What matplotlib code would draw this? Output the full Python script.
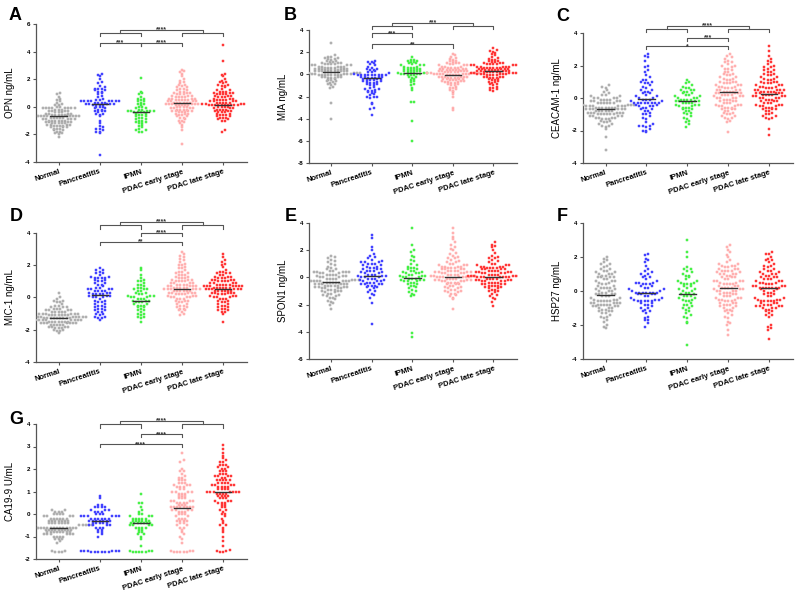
import numpy as np
import matplotlib
matplotlib.use("Agg")
import matplotlib.pyplot as plt

plt.rcParams['font.family'] = ['Liberation Sans', 'DejaVu Sans']
plt.rcParams['font.weight'] = 'bold'
plt.rcParams['axes.unicode_minus'] = False

groups = ["Normal", "Pancreatitis", "IPMN", "PDAC early stage", "PDAC late stage"]
edge_cols = ["#8a8a8a", "#2f2fff", "#22dd22", "#ff8c8c", "#ff2020"]
face_cols = ["#c8c8c8", "#5050ff", "#60ff60", "#ffc8c8", "#ff4848"]

# --- A: OPN ---
opn_normal = [1.0,0.9,0.7,0.6,0.5,0.4,0.3,0.2,0.1,0.1,0.0,0.0,-0.1,-0.1,-0.1,-0.1,-0.1,-0.1,-0.1,-0.1,-0.2,-0.2,-0.3,-0.3,-0.3,-0.4,-0.4,-0.4,-0.5,-0.5,-0.5,-0.6,-0.6,-0.6,-0.6,-0.7,-0.7,-0.7,-0.7,-0.7,-0.7,-0.7,-0.7,-0.8,-0.8,-0.8,-0.8,-0.9,-0.9,-0.9,-0.9,-1.0,-1.0,-1.0,-1.0,-1.1,-1.1,-1.1,-1.2,-1.2,-1.2,-1.2,-1.3,-1.3,-1.3,-1.4,-1.4,-1.4,-1.5,-1.5,-1.5,-1.6,-1.6,-1.7,-1.7,-1.8,-1.8,-1.9,-2.0,-2.2,
              -0.2,-0.3,-0.5,-0.8,-0.9,-1.0,-1.1,-1.2,-1.3,-1.4,-0.6,-0.7,-1.0,-1.6,-1.9]
opn_panc = [2.4,2.3,2.2,2.0,1.8,1.7,1.5,1.4,1.3,1.3,1.3,1.2,1.2,1.1,1.1,1.0,0.9,0.8,0.7,0.6,0.5,0.5,0.4,0.4,0.4,0.4,0.4,0.4,0.4,0.4,0.3,0.3,0.3,0.3,0.2,0.2,0.2,0.2,0.2,0.1,0.1,0.1,0.1,0.0,0.0,0.0,-0.1,-0.1,-0.2,-0.2,-0.3,-0.3,-0.3,-0.4,-0.5,-0.5,-0.6,-0.7,-1.0,-1.2,-1.4,-1.5,-1.6,-1.6,-1.7,-1.8,-1.8,-1.9,-3.5]
opn_ipmn = [2.1,1.1,1.0,0.9,0.7,0.6,0.6,0.5,0.4,0.4,0.3,0.2,0.2,0.1,0.0,0.0,-0.1,-0.1,-0.2,-0.2,-0.3,-0.3,-0.3,-0.3,-0.3,-0.4,-0.4,-0.4,-0.4,-0.5,-0.5,-0.6,-0.6,-0.7,-0.7,-0.8,-0.8,-0.9,-0.9,-1.0,-1.0,-1.1,-1.1,-1.2,-1.2,-1.3,-1.4,-1.5,-1.6,-1.7,-1.7,-1.8,-1.8]
opn_early = [2.7,2.6,2.5,2.4,2.2,2.0,1.8,1.7,1.6,1.6,1.5,1.4,1.4,1.3,1.2,1.2,1.1,1.1,1.0,1.0,0.9,0.9,0.8,0.8,0.8,0.7,0.7,0.7,0.6,0.6,0.6,0.6,0.5,0.5,0.5,0.5,0.4,0.4,0.4,0.4,0.3,0.3,0.3,0.3,0.3,0.2,0.2,0.2,0.2,0.2,0.2,0.1,0.1,0.1,0.1,0.0,0.0,0.0,0.0,-0.1,-0.1,-0.1,-0.2,-0.2,-0.2,-0.3,-0.3,-0.3,-0.4,-0.4,-0.4,-0.5,-0.5,-0.6,-0.6,-0.7,-0.7,-0.8,-0.9,-1.0,-1.1,-1.2,-1.3,-1.5,-1.7,-2.7,
             1.9,1.3,1.0,0.9,0.7,0.5,0.3,0.1,-0.1,-0.2,-0.5,-0.8,-1.0,-0.3]
opn_late = [4.5,3.3,2.4,2.3,2.2,2.0,1.9,1.8,1.8,1.7,1.6,1.5,1.4,1.3,1.2,1.1,1.1,1.0,1.0,1.0,0.9,0.9,0.9,0.8,0.8,0.8,0.7,0.7,0.6,0.6,0.6,0.5,0.5,0.5,0.4,0.4,0.4,0.3,0.3,0.3,0.3,0.2,0.2,0.2,0.1,0.1,0.1,0.1,0.1,0.1,0.1,0.1,0.1,0.1,0.0,0.0,0.0,-0.1,-0.1,-0.1,-0.2,-0.2,-0.2,-0.3,-0.3,-0.3,-0.4,-0.4,-0.5,-0.5,-0.6,-0.6,-0.7,-0.7,-0.8,-0.8,-0.9,-1.0,-1.0,-1.7,-1.8,
            1.5,1.2,0.9,0.7,0.4,0.2,0.0,-0.2,-0.4,-0.6,-0.9,0.5,1.1,0.3,1.6,-0.8]
opn_center = [-0.7, 0.2, -0.35, 0.25, 0.1]

# --- B: MIA ---
mia_normal = [2.8,1.7,1.6,1.6,1.5,1.4,1.4,1.3,1.2,1.1,1.1,1.0,1.0,0.9,0.9,0.9,0.8,0.8,0.8,0.7,0.7,0.7,0.6,0.6,0.6,0.5,0.5,0.5,0.5,0.4,0.4,0.4,0.4,0.3,0.3,0.3,0.3,0.2,0.2,0.2,0.2,0.1,0.1,0.1,0.1,0.0,0.0,0.0,0.0,-0.1,-0.1,-0.1,-0.1,-0.1,-0.1,-0.1,-0.2,-0.2,-0.2,-0.3,-0.3,-0.4,-0.5,-0.5,-0.6,-0.7,-0.8,-0.9,-1.0,-1.1,-1.2,-2.6,-4.0,
              0.0,0.1,0.2,0.3,0.4,0.5,0.6,0.7,0.8,0.9,1.0,1.2,-0.1,-0.2,0.1,0.3,0.5,0.7,-0.3,-0.6,-0.9,1.5]
mia_panc = [1.2,1.1,1.1,1.0,0.9,0.8,0.7,0.6,0.5,0.5,0.4,0.4,0.3,0.2,0.1,0.0,-0.1,-0.1,-0.1,-0.1,-0.1,-0.1,-0.1,-0.1,-0.2,-0.2,-0.2,-0.3,-0.3,-0.3,-0.4,-0.4,-0.4,-0.5,-0.5,-0.6,-0.6,-0.7,-0.7,-0.8,-0.8,-0.9,-1.0,-1.0,-1.1,-1.2,-1.3,-1.4,-1.5,-1.5,-1.6,-1.7,-1.8,-1.9,-2.0,-2.0,-2.0,-2.1,-2.6,-2.7,-3.0,-3.1,-3.7,
            -0.2,-0.5,-0.9,-1.3,-1.6,0.2,-0.1]
mia_ipmn = [1.6,1.3,1.3,1.2,1.2,1.1,1.0,1.0,0.9,0.8,0.8,0.7,0.7,0.6,0.6,0.5,0.5,0.5,0.4,0.4,0.3,0.3,0.3,0.2,0.2,0.2,0.1,0.1,0.1,0.0,0.0,0.0,-0.1,-0.1,-0.2,-0.2,-0.3,-0.4,-0.5,-0.6,-0.7,-0.9,-1.0,-1.2,-1.4,-2.5,-2.5,-4.2,-6.0,
            0.8,0.4,0.0,-0.1,1.1,0.6]
mia_early = [1.8,1.7,1.5,1.4,1.3,1.2,1.1,1.0,1.0,0.9,0.9,0.8,0.8,0.7,0.7,0.6,0.6,0.6,0.5,0.5,0.5,0.4,0.4,0.4,0.4,0.3,0.3,0.3,0.3,0.2,0.2,0.2,0.2,0.1,0.1,0.1,0.1,0.0,0.0,0.0,0.0,0.0,-0.1,-0.1,-0.1,-0.1,-0.2,-0.2,-0.2,-0.2,-0.3,-0.3,-0.3,-0.4,-0.4,-0.4,-0.5,-0.5,-0.6,-0.6,-0.7,-0.7,-0.8,-0.8,-0.9,-1.0,-1.1,-1.2,-1.3,-1.4,-1.6,-1.8,-2.0,-3.0,-3.2,
             1.6,1.2,1.0,0.8,0.6,0.5,0.3,0.2,0.1,0.0,-0.1,-0.2,-0.3,-0.4,-0.5,-0.6,-0.7,-0.9,-1.0,-1.2,-1.5,0.4,0.0,-0.2,0.7]
mia_late = [2.4,2.2,2.1,1.9,1.7,1.5,1.4,1.3,1.2,1.1,1.1,1.0,1.0,0.9,0.9,0.9,0.8,0.8,0.8,0.7,0.7,0.7,0.7,0.6,0.6,0.6,0.6,0.5,0.5,0.5,0.5,0.4,0.4,0.4,0.4,0.3,0.3,0.3,0.3,0.2,0.2,0.2,0.2,0.1,0.1,0.1,0.1,0.0,0.0,0.0,0.0,0.0,-0.1,-0.1,-0.1,-0.2,-0.2,-0.2,-0.3,-0.3,-0.4,-0.4,-0.5,-0.6,-0.7,-0.8,-0.9,-1.0,-1.1,-1.2,-1.3,-1.4,-1.5,
            2.0,1.8,1.6,1.3,1.2,1.0,0.9,0.8,0.7,0.6,0.5,0.4,0.3,0.2,0.1,0.0,-0.1,-0.2,-0.3,-0.5,-0.7,-0.9,-1.2,0.6,0.2]
mia_center = [0.25, -0.35, 0.1, -0.05, 0.3]

# --- C: CEACAM-1 ---
cea_normal = [0.8,0.7,0.6,0.4,0.3,0.2,0.1,0.1,0.0,0.0,0.0,-0.1,-0.1,-0.1,-0.2,-0.2,-0.2,-0.3,-0.3,-0.3,-0.3,-0.4,-0.4,-0.4,-0.4,-0.5,-0.5,-0.5,-0.5,-0.6,-0.6,-0.6,-0.6,-0.6,-0.7,-0.7,-0.7,-0.7,-0.7,-0.8,-0.8,-0.8,-0.8,-0.9,-0.9,-0.9,-0.9,-1.0,-1.0,-1.0,-1.0,-1.1,-1.1,-1.1,-1.2,-1.2,-1.2,-1.3,-1.3,-1.4,-1.4,-1.5,-1.5,-1.6,-1.7,-1.8,-2.4,-3.2,
              0.5,0.2,0.0,-0.1,-0.2,-0.3,-0.4,-0.5,-0.6,-0.7,-0.8,-0.9,-1.0,-1.1,-1.2,-1.3,-0.5,-0.6,-0.7,-0.8,-0.9,-1.0,-1.6,-1.7,-0.3,-0.4,-1.9]
cea_panc = [2.7,2.6,2.5,2.3,2.0,1.7,1.6,1.3,1.1,1.1,1.0,1.0,0.9,0.8,0.7,0.5,0.5,0.4,0.4,0.3,0.2,0.1,0.0,0.0,-0.1,-0.1,-0.1,-0.2,-0.3,-0.3,-0.3,-0.3,-0.3,-0.3,-0.3,-0.4,-0.5,-0.5,-0.5,-0.6,-0.7,-0.7,-0.8,-0.9,-1.0,-1.0,-1.1,-1.2,-1.5,-1.6,-1.7,-1.7,-1.8,-1.9,-2.0,-2.1,
            1.9,1.4,0.9,0.6,0.3,0.1,-0.2,-0.4,-0.6,-0.8,-1.3,-1.7,-2.0,-0.3]
cea_ipmn = [1.1,1.0,0.8,0.7,0.6,0.6,0.5,0.5,0.4,0.4,0.3,0.3,0.2,0.1,0.1,0.0,0.0,-0.1,-0.1,-0.1,-0.2,-0.2,-0.2,-0.2,-0.3,-0.3,-0.3,-0.4,-0.4,-0.5,-0.5,-0.6,-0.6,-0.7,-0.8,-0.8,-0.9,-1.0,-1.1,-1.2,-1.3,-1.5,-1.6,-1.8,
            0.9,0.5,0.2,0.0,-0.1,-0.3,-0.4,-0.6,-0.7,-0.9,-1.4]
cea_early = [2.7,2.6,2.4,2.3,2.2,2.1,2.0,1.9,1.8,1.7,1.6,1.5,1.5,1.4,1.3,1.2,1.2,1.1,1.0,1.0,0.9,0.9,0.8,0.8,0.7,0.7,0.6,0.6,0.5,0.5,0.5,0.4,0.4,0.4,0.3,0.3,0.3,0.2,0.2,0.2,0.1,0.1,0.0,0.0,0.0,-0.1,-0.1,-0.2,-0.2,-0.3,-0.3,-0.4,-0.4,-0.5,-0.5,-0.6,-0.6,-0.7,-0.7,-0.8,-0.9,-1.0,-1.1,-1.2,-1.3,-1.4,-2.1,
             2.5,2.2,2.0,1.8,1.6,1.4,1.3,1.1,1.0,0.9,0.8,0.7,0.6,0.5,0.4,0.3,0.2,0.1,0.0,-0.1,-0.2,-0.3,-0.4,-0.5,-0.6,-0.7,-0.8,-0.9,-1.0,-1.1,-1.2,-1.5,0.3]
cea_late = [3.2,2.6,2.3,2.1,2.0,1.9,1.8,1.7,1.6,1.5,1.5,1.4,1.3,1.2,1.1,1.1,1.0,1.0,0.9,0.9,0.8,0.8,0.7,0.7,0.6,0.6,0.5,0.5,0.5,0.4,0.4,0.4,0.3,0.3,0.3,0.2,0.2,0.2,0.1,0.1,0.1,0.0,0.0,0.0,-0.1,-0.1,-0.2,-0.2,-0.3,-0.3,-0.4,-0.4,-0.5,-0.5,-0.6,-0.6,-0.7,-0.7,-0.8,-0.9,-1.0,-1.1,-1.2,-1.3,-1.9,-2.3,
            2.9,2.4,2.2,1.9,1.7,1.6,1.4,1.3,1.2,1.0,0.9,0.8,0.7,0.6,0.5,0.4,0.3,0.2,0.1,0.0,-0.1,-0.2,-0.3,-0.4,-0.5,-0.6,-0.7,-0.8,-1.0,-1.1,-1.2,0.3,0.4,0.5]
cea_center = [-0.65, -0.05, -0.2, 0.35, 0.25]

# --- D: MIC-1 ---
mic_normal = [0.3,0.0,-0.1,-0.2,-0.2,-0.3,-0.4,-0.5,-0.6,-0.6,-0.7,-0.7,-0.8,-0.8,-0.8,-0.9,-0.9,-0.9,-1.0,-1.0,-1.0,-1.0,-1.1,-1.1,-1.1,-1.1,-1.2,-1.2,-1.2,-1.2,-1.2,-1.3,-1.3,-1.3,-1.3,-1.3,-1.4,-1.4,-1.4,-1.4,-1.4,-1.5,-1.5,-1.5,-1.5,-1.6,-1.6,-1.6,-1.6,-1.7,-1.7,-1.7,-1.8,-1.8,-1.8,-1.9,-1.9,-2.0,-2.0,-2.1,-2.2,
              -0.3,-0.5,-0.7,-0.8,-0.9,-1.0,-1.1,-1.1,-1.2,-1.2,-1.3,-1.3,-1.4,-1.4,-1.5,-1.5,-1.6,-1.6,-1.7,-1.7,-1.8,-1.9,-1.0,-1.1,-1.2,-1.3,-1.4,-1.5,-0.9,-0.6,-2.1,-1.6,-1.3,-1.2]
mic_panc = [1.8,1.7,1.6,1.5,1.4,1.3,1.2,1.2,1.2,1.1,1.0,0.9,0.8,0.7,0.6,0.5,0.5,0.5,0.4,0.4,0.3,0.3,0.2,0.2,0.2,0.1,0.1,0.0,0.0,-0.1,-0.2,-0.3,-0.4,-0.5,-0.5,-0.6,-0.7,-0.7,-0.8,-0.9,-0.9,-1.0,-1.1,-1.2,-1.3,-1.3,-1.4,
            1.7,1.5,1.3,1.2,1.1,1.0,0.9,0.8,0.6,0.5,0.4,0.3,0.2,0.1,0.0,-0.2,-0.3,-0.4,-0.6,-0.8,-1.0,-1.2,0.4]
mic_ipmn = [1.8,1.7,1.2,1.1,1.0,0.9,0.8,0.7,0.6,0.5,0.5,0.4,0.3,0.3,0.2,0.1,0.1,0.0,0.0,-0.1,-0.1,-0.2,-0.2,-0.3,-0.3,-0.4,-0.4,-0.5,-0.5,-0.6,-0.7,-0.8,-0.9,-1.0,-1.1,-1.2,-1.3,-1.5,
            1.4,1.0,0.8,0.6,0.5,0.4,0.2,0.1,0.0,-0.1,-0.2,-0.3,-0.5,-0.6,-0.8,-1.0,-1.2]
mic_early = [2.8,2.6,2.4,2.2,2.1,2.0,1.9,1.8,1.7,1.6,1.5,1.4,1.4,1.3,1.2,1.2,1.1,1.1,1.0,1.0,0.9,0.9,0.8,0.8,0.8,0.7,0.7,0.7,0.6,0.6,0.6,0.5,0.5,0.5,0.5,0.4,0.4,0.4,0.4,0.3,0.3,0.3,0.2,0.2,0.1,0.1,0.0,0.0,-0.1,-0.1,-0.2,-0.2,-0.3,-0.4,-0.5,-0.6,-0.7,-0.8,-0.9,-1.1,
             2.7,2.5,2.3,2.0,1.8,1.6,1.5,1.3,1.2,1.1,1.0,0.9,0.8,0.7,0.6,0.5,0.4,0.3,0.2,0.1,0.0,-0.1,-0.2,-0.3,-0.4,-0.5,-0.6,-0.7,-0.8,0.5,0.6,0.4,0.3,0.7,0.9,1.0,1.4,0.2,0.0,-1.0]
mic_late = [2.7,2.3,2.1,1.9,1.6,1.5,1.5,1.4,1.3,1.2,1.1,1.1,1.0,1.0,0.9,0.9,0.8,0.8,0.8,0.7,0.7,0.7,0.7,0.6,0.6,0.6,0.5,0.5,0.5,0.4,0.4,0.4,0.3,0.3,0.3,0.2,0.2,0.1,0.1,0.0,0.0,-0.1,-0.1,-0.2,-0.3,-0.4,-0.5,-0.6,-0.7,-0.8,-0.9,-1.0,-1.5,
            2.5,2.2,2.0,1.7,1.6,1.4,1.3,1.2,1.1,1.0,0.9,0.8,0.7,0.7,0.6,0.6,0.5,0.5,0.4,0.4,0.3,0.3,0.2,0.1,0.0,-0.1,-0.2,-0.3,-0.4,-0.5,-0.6,-0.7,-0.8,-0.9,0.6,0.7,0.8,0.9,1.0,1.1,1.2,1.3,1.5,0.5,0.4]
mic_center = [-1.3, 0.15, -0.2, 0.5, 0.55]

# --- E: SPON1 ---
spon_normal = [1.6,1.5,1.3,1.1,0.9,0.7,0.6,0.5,0.4,0.4,0.4,0.3,0.3,0.2,0.2,0.1,0.1,0.0,0.0,-0.1,-0.1,-0.2,-0.2,-0.2,-0.3,-0.3,-0.3,-0.3,-0.4,-0.4,-0.4,-0.5,-0.5,-0.5,-0.6,-0.6,-0.6,-0.7,-0.7,-0.8,-0.8,-0.9,-0.9,-1.0,-1.0,-1.1,-1.2,-1.3,-1.4,-1.5,-1.6,-1.8,-2.0,-2.3,
               1.4,1.2,1.0,0.8,0.6,0.5,0.4,0.3,0.2,0.1,0.0,-0.1,-0.2,-0.2,-0.3,-0.3,-0.4,-0.4,-0.5,-0.5,-0.6,-0.6,-0.7,-0.7,-0.8,-0.8,-0.9,-1.0,-1.1,-1.2,-1.3,-1.4,-1.5,-1.7,-1.9,-0.3,-0.4,-0.1,0.2,0.4,-0.5]
spon_panc = [3.1,2.9,2.2,1.7,1.6,1.4,1.2,1.1,1.1,1.0,1.0,0.9,0.8,0.7,0.6,0.6,0.5,0.5,0.4,0.3,0.2,0.2,0.1,0.1,0.0,0.0,-0.1,-0.1,-0.2,-0.3,-0.3,-0.4,-0.4,-0.5,-0.5,-0.5,-0.6,-0.6,-0.7,-0.8,-0.9,-1.0,-1.1,-1.3,-1.5,-1.9,-3.4,
             2.0,1.5,1.3,1.1,1.0,0.9,0.8,0.7,0.6,0.5,0.4,0.3,0.2,0.1,0.0,-0.1,-0.2,-0.3,-0.4,-0.5,-0.6,-0.7,-1.2]
spon_ipmn = [3.6,2.4,2.0,1.5,1.3,1.0,0.8,0.7,0.6,0.5,0.4,0.3,0.3,0.2,0.1,0.1,0.0,0.0,-0.1,-0.1,-0.2,-0.2,-0.3,-0.3,-0.4,-0.5,-0.6,-0.7,-0.9,-1.1,-1.3,-1.4,-4.1,-4.4,
             1.9,1.6,1.2,0.9,0.7,0.6,0.5,0.4,0.3,0.2,0.1,0.0,-0.1,-0.2,-0.3,-0.4,-0.5,-0.6,-0.8,-1.0,-1.2]
spon_early = [3.6,3.0,2.8,2.2,2.0,1.5,1.4,1.3,1.1,1.0,0.9,0.8,0.8,0.7,0.6,0.6,0.5,0.5,0.4,0.4,0.3,0.3,0.2,0.2,0.1,0.1,0.0,0.0,0.0,0.0,-0.1,-0.1,-0.2,-0.2,-0.3,-0.3,-0.4,-0.4,-0.5,-0.5,-0.6,-0.7,-0.8,-0.9,-1.0,-1.1,-1.2,-1.3,-1.5,-2.3,
              3.3,2.6,2.4,2.1,1.8,1.7,1.6,1.4,1.2,1.1,1.0,0.9,0.9,0.8,0.7,0.7,0.6,0.5,0.4,0.3,0.2,0.1,0.0,0.0,-0.1,-0.1,-0.2,-0.2,-0.3,-0.4,-0.5,-0.6,-0.7,-0.8,-0.9,-1.0,-1.1,-1.2,-1.4,-1.6,0.0,0.1,0.2,0.3,0.4,0.5,-0.3,-0.4,0.6,0.8]
spon_late = [2.6,2.4,2.0,1.6,1.4,1.2,1.0,0.9,0.8,0.8,0.7,0.7,0.6,0.6,0.5,0.5,0.4,0.4,0.3,0.3,0.2,0.2,0.1,0.1,0.1,0.0,0.0,0.0,0.0,-0.1,-0.1,-0.2,-0.2,-0.3,-0.3,-0.4,-0.4,-0.5,-0.5,-0.6,-0.6,-0.7,-0.8,-0.9,-1.0,-1.2,-1.4,-1.6,-2.1,
             2.3,2.2,1.8,1.5,1.4,1.3,1.1,1.0,0.9,0.9,0.8,0.7,0.7,0.6,0.5,0.5,0.4,0.3,0.2,0.1,0.1,0.0,0.0,-0.1,-0.1,-0.2,-0.2,-0.3,-0.4,-0.5,-0.6,-0.7,-0.8,-0.9,-1.0,-1.1,-1.3,-1.5,-1.8,0.0,0.1,0.2,0.3,0.4,0.6,-0.3,-0.4,-0.5,-0.6,0.8]
spon_center = [-0.35, 0.1, -0.05, 0.0, 0.0]

# --- F: HSP27 ---
hsp_normal = [2.0,1.8,1.6,1.5,1.3,1.2,1.1,1.0,0.9,0.8,0.8,0.7,0.6,0.5,0.4,0.3,0.2,0.2,0.1,0.0,-0.1,-0.2,-0.2,-0.3,-0.3,-0.4,-0.5,-0.6,-0.6,-0.7,-0.7,-0.8,-0.8,-0.9,-1.0,-1.1,-1.2,-1.3,-1.5,-1.7,-2.1,-2.2,
              1.9,1.7,1.6,1.4,1.3,1.2,1.1,1.0,0.9,0.8,0.7,0.6,0.5,0.4,0.3,0.2,0.1,0.0,-0.1,-0.2,-0.3,-0.4,-0.5,-0.5,-0.6,-0.6,-0.7,-0.7,-0.7,-0.8,-0.8,-0.9,-0.9,-1.0,-1.0,-1.1,-1.2,-1.3,-1.4,-1.6,-1.8,-0.6,-0.8,-0.2,0.2,0.0,0.6,0.8,1.0,-1.2,-1.5,-0.9,-2.0]
hsp_panc = [2.2,2.1,1.8,1.7,1.3,1.2,1.0,0.9,0.8,0.6,0.5,0.4,0.4,0.3,0.2,0.1,0.0,-0.1,-0.1,-0.1,-0.1,-0.1,-0.2,-0.2,-0.3,-0.4,-0.5,-0.6,-0.6,-0.6,-0.7,-0.8,-1.0,-1.1,-1.2,-1.3,-1.6,-1.7,-1.9,-2.1,
            1.9,1.5,1.1,1.0,0.8,0.7,0.5,0.4,0.3,0.2,0.1,0.0,-0.1,-0.1,-0.2,-0.2,-0.3,-0.4,-0.5,-0.6,-0.7,-0.8,-0.9,-1.0,-1.2,-1.5,-1.7,0.5,-0.5,-0.6]
hsp_ipmn = [3.0,2.3,2.0,1.4,1.3,1.2,1.0,0.9,0.7,0.6,0.5,0.4,0.4,0.3,0.2,0.1,0.0,-0.1,-0.2,-0.3,-0.3,-0.4,-0.5,-0.6,-0.7,-0.8,-0.9,-1.0,-1.2,-1.4,-1.6,-1.9,-3.2,
            1.3,1.1,0.9,0.8,0.6,0.5,0.4,0.3,0.1,0.0,-0.1,-0.2,-0.3,-0.4,-0.5,-0.6,-0.8,-1.0,-1.1,-1.3,-1.5,-1.8]
hsp_early = [2.7,2.6,2.4,2.1,1.8,1.6,1.5,1.4,1.3,1.2,1.2,1.1,1.0,1.0,0.9,0.8,0.7,0.6,0.6,0.5,0.4,0.4,0.3,0.3,0.2,0.2,0.1,0.1,0.0,0.0,-0.1,-0.1,-0.2,-0.3,-0.3,-0.4,-0.5,-0.5,-0.6,-0.7,-0.7,-0.8,-0.9,-1.0,-1.1,-1.2,-1.3,-1.5,-1.8,-2.0,-2.3,-2.6,
             2.3,2.0,1.7,1.6,1.5,1.4,1.3,1.3,1.2,1.1,1.0,0.9,0.8,0.7,0.6,0.5,0.4,0.3,0.2,0.1,0.0,-0.1,-0.2,-0.3,-0.4,-0.5,-0.6,-0.7,-0.8,-0.9,-1.0,-1.1,-1.2,-1.4,-1.6,-1.9,1.2,1.0,0.8,0.4,0.2,0.0,-0.2,-0.4,-0.6,-0.8,0.6,1.5]
hsp_late = [2.3,2.2,1.9,1.8,1.6,1.5,1.3,1.2,1.1,1.0,0.9,0.8,0.7,0.7,0.6,0.5,0.4,0.3,0.3,0.2,0.2,0.2,0.1,0.0,-0.1,-0.2,-0.3,-0.4,-0.5,-0.6,-0.6,-0.7,-0.8,-0.9,-0.9,-1.0,-1.1,-1.2,-1.4,-1.5,-2.0,-2.2,-2.3,-2.8,
            2.2,2.0,1.8,1.7,1.5,1.4,1.3,1.2,1.1,1.0,0.9,0.8,0.7,0.6,0.5,0.4,0.3,0.2,0.2,0.3,0.2,0.1,0.0,-0.1,-0.2,-0.3,-0.4,-0.5,-0.6,-0.6,-0.7,-0.8,-0.9,-1.0,-1.1,-1.2,-1.3,-1.4,-2.1,0.8,0.6,0.4,-0.5,-0.6,-0.7,-0.8,-0.9,-1.0,1.0,0.5,0.2]
hsp_center = [-0.25, -0.1, -0.15, 0.15, 0.2]

# --- G: CA19-9 ---
ca_normal = [0.2,0.2,0.1,0.1,0.0,0.0,0.0,-0.1,-0.1,-0.1,-0.2,-0.2,-0.2,-0.2,-0.3,-0.3,-0.3,-0.3,-0.3,-0.4,-0.4,-0.4,-0.4,-0.4,-0.5,-0.5,-0.5,-0.5,-0.5,-0.5,-0.6,-0.6,-0.6,-0.6,-0.6,-0.6,-0.6,-0.6,-0.6,-0.6,-0.7,-0.7,-0.7,-0.7,-0.7,-0.7,-0.8,-0.8,-0.8,-0.8,-0.8,-0.9,-0.9,-0.9,-0.9,-1.0,-1.0,-1.0,-1.1,-1.1,-1.2,-1.3,-1.65,-1.65,-1.7,-1.7,-1.7,
             -0.1,-0.2,-0.3,-0.4,-0.5,-0.5,-0.6,-0.6,-0.6,-0.7,-0.7,-0.8,-0.8,-0.9,-1.0,-1.1,-0.4,-0.3,-0.2,0.1,0.0,-0.5,-0.7,-0.8,-0.9]
ca_panc = [0.8,0.7,0.4,0.3,0.3,0.3,0.2,0.2,0.1,0.1,0.0,0.0,-0.1,-0.1,-0.1,-0.1,-0.2,-0.2,-0.2,-0.3,-0.3,-0.3,-0.3,-0.4,-0.4,-0.4,-0.5,-0.5,-0.6,-0.6,-0.7,-0.8,-0.9,-1.0,-1.65,-1.65,-1.65,-1.65,-1.65,-1.65,-1.7,-1.7,-1.7,-1.7,-1.7,-1.7,
           0.3,0.2,0.1,0.0,-0.1,-0.2,-0.2,-0.3,-0.3,-0.4,-0.4,-0.5,-0.5,-0.6,-0.7,-0.8,-0.3,-0.2,-0.1,0.4]
ca_ipmn = [0.9,0.5,0.3,0.1,0.0,-0.1,-0.1,-0.2,-0.2,-0.2,-0.3,-0.3,-0.3,-0.4,-0.4,-0.4,-0.4,-0.5,-0.5,-0.6,-0.6,-0.7,-0.8,-0.9,-1.4,-1.65,-1.65,-1.7,-1.7,-1.7,-1.7,-1.7,
           0.5,0.2,0.0,-0.1,-0.2,-0.2,-0.3,-0.3,-0.4,-0.4,-0.5,-0.5,-0.6,-0.6,-0.7,-0.8,-0.9,-1.0,-1.1,-0.4,-0.3,-1.65]
ca_early = [2.7,2.4,2.0,1.9,1.8,1.6,1.5,1.5,1.4,1.3,1.3,1.2,1.1,1.0,1.0,0.9,0.9,0.8,0.7,0.7,0.6,0.6,0.5,0.5,0.4,0.4,0.3,0.3,0.3,0.3,0.3,0.2,0.2,0.1,0.1,0.0,0.0,-0.1,-0.2,-0.3,-0.3,-0.4,-0.5,-0.6,-0.8,-1.0,-1.1,-1.65,-1.65,-1.7,-1.7,-1.7,-1.7,-1.7,
            2.3,1.9,1.7,1.6,1.5,1.4,1.3,1.2,1.1,1.0,0.9,0.8,0.7,0.6,0.5,0.4,0.3,0.3,0.2,0.2,0.1,0.0,-0.1,-0.2,-0.3,-0.4,-0.5,-0.6,-0.7,-0.9,1.0,1.2,1.4,0.5,0.6,0.8,-0.2,-0.3,-1.65,-1.3,0.3]
ca_late = [3.05,2.7,2.5,2.4,2.3,2.2,2.2,2.1,2.0,1.9,1.8,1.8,1.7,1.7,1.6,1.5,1.5,1.5,1.4,1.4,1.3,1.3,1.2,1.2,1.1,1.1,1.0,1.0,1.0,1.0,0.9,0.9,0.8,0.8,0.7,0.7,0.6,0.5,0.5,0.4,0.3,0.2,0.1,0.0,-0.1,-0.2,-0.4,-0.5,-0.6,-0.8,-1.0,-1.2,-1.4,-1.6,-1.65,-1.7,-1.7,
           2.9,2.6,2.3,2.2,2.1,2.0,1.9,1.8,1.7,1.6,1.5,1.4,1.4,1.3,1.2,1.1,1.0,1.0,1.0,0.9,0.8,0.7,0.6,0.5,0.4,0.3,0.2,0.0,-0.3,-0.5,-0.7,1.2,1.5,1.7,1.9,0.9,0.8,1.1,1.3,0.6,-1.65]
ca_center = [-0.62, -0.3, -0.4, 0.28, 1.0]

# letter, ylabel, data, centre lines, (ymin, ymax, ystep), axes box px (l, t, r, b), letter pos px, swarm row height px
panels = [
    ("A", "OPN ng/mL", [opn_normal, opn_panc, opn_ipmn, opn_early, opn_late], opn_center, (-4, 6, 2), (36, 24, 247, 162), (9, 20), 2.7),
    ("B", "MIA ng/mL", [mia_normal, mia_panc, mia_ipmn, mia_early, mia_late], mia_center, (-8, 4, 2), (309, 30, 517, 163), (284, 20), 2.6),
    ("C", "CEACAM-1 ng/mL", [cea_normal, cea_panc, cea_ipmn, cea_early, cea_late], cea_center, (-4, 4, 2), (583, 33, 793, 163), (556, 21), 3.9),
    ("D", "MIC-1 ng/mL", [mic_normal, mic_panc, mic_ipmn, mic_early, mic_late], mic_center, (-4, 4, 2), (36, 233, 247, 362), (10, 221), 3.3),
    ("E", "SPON1 ng/mL", [spon_normal, spon_panc, spon_ipmn, spon_early, spon_late], spon_center, (-6, 4, 2), (309, 223, 517, 359), (285, 221), 3.8),
    ("F", "HSP27 ng/mL", [hsp_normal, hsp_panc, hsp_ipmn, hsp_early, hsp_late], hsp_center, (-4, 4, 2), (583, 223, 793, 359), (557, 221), 4.2),
    ("G", "CA19-9 U/mL", [ca_normal, ca_panc, ca_ipmn, ca_early, ca_late], ca_center, (-2, 4, 1), (36, 424, 247, 559), (9, 424), 3.1),
]

# brackets: grouped ((i1,i2),(j1,j2), top, mid, drop, label), simple (i, j, line, drop, label)
group_br = {
    "A": [((1, 2), (3, 4), 5.59, 5.34, 5.15, "****")],
    "B": [((1, 2), (3, 4), 4.66, 4.36, 4.06, "***")],
    "C": [((1, 2), (3, 4), 4.45, 4.25, 4.04, "****")],
    "D": [((1, 2), (3, 4), 4.68, 4.47, 4.27, "****")],
    "G": [((1, 2), (3, 4), 4.13, 3.98, 3.84, "****")],
}
simple_br = {
    "A": [(1, 2, 4.62, 4.37, "***"), (2, 3, 4.62, 4.37, "****")],
    "B": [(1, 2, 3.7, 3.4, "***"), (1, 3, 2.7, 2.4, "**")],
    "C": [(2, 3, 3.69, 3.53, "***"), (1, 3, 3.18, 3.01, "*")],
    "D": [(2, 3, 4.0, 3.8, "****"), (1, 3, 3.44, 3.24, "**")],
    "G": [(2, 3, 3.54, 3.42, "****"), (1, 3, 3.1, 2.98, "****")],
}

W, H = 800, 595
XLIM = (-0.55, 4.58)
LINE_C = "#555555"


def swarm_offsets(vals, px_per_y, px_per_x, row_h, dx):
    # Prism-style rows: points binned by pixel height, each row centred
    vals = np.asarray(vals, float)
    rows = np.floor(vals * px_per_y / row_h + 0.5).astype(int)
    offs = np.zeros(len(vals))
    for r in np.unique(rows):
        idx = np.where(rows == r)[0]
        idx = idx[np.argsort(vals[idx], kind='stable')]
        n = len(idx)
        pos = (np.arange(n) - (n - 1) / 2) * dx
        order = np.argsort(np.abs(pos), kind='stable')
        offs[idx] = pos[order]
    return offs / px_per_x


fig = plt.figure(figsize=(W / 100, H / 100), dpi=100)

for letter, ylab, data, centers, (ymin, ymax, ystep), (l, t, r, b), (lx, ly), row_h in panels:
    ax = fig.add_axes([l / W, 1 - b / H, (r - l) / W, (b - t) / H])
    ax.set_xlim(*XLIM)
    ax.set_ylim(ymin, ymax)
    px_y = (b - t) / (ymax - ymin)
    px_x = (r - l) / (XLIM[1] - XLIM[0])

    for i, vals in enumerate(data):
        size = 2.8 if i == 1 else 1.7
        off = swarm_offsets(vals, px_y, px_x, row_h, 3.5 if i == 1 else 3.2)
        ax.scatter(i + off, vals, s=size, marker='s', facecolor=face_cols[i],
                   edgecolor=edge_cols[i], linewidths=0.3, zorder=3)
        ax.plot([i - 0.2, i + 0.2], [centers[i], centers[i]], color="#333333", lw=1.0, zorder=5)

    for (a, bb, top, mid, drop, lab) in group_br.get(letter, []):
        for (p, q) in (a, bb):
            ax.plot([p, p, q, q], [drop, mid, mid, drop], color=LINE_C, lw=0.8, clip_on=False)
        ca, cb = np.mean(a), np.mean(bb)
        ax.plot([ca, ca, cb, cb], [mid, top, top, mid], color=LINE_C, lw=0.8, clip_on=False)
        ax.text((ca + cb) / 2, top, lab, ha='center', va='center', fontsize=5, color="#333333")
    for (p, q, line, drop, lab) in simple_br.get(letter, []):
        ax.plot([p, p, q, q], [drop, line, line, drop], color=LINE_C, lw=0.8, clip_on=False)
        ax.text((p + q) / 2, line, lab, ha='center', va='center', fontsize=5, color="#333333")

    ax.set_yticks(np.arange(ymin, ymax + 0.01, ystep))
    ax.set_xticks(range(5))
    ax.set_xticklabels(groups, rotation=18, ha='right', rotation_mode='anchor', fontsize=5.5)
    ax.tick_params(axis='y', labelsize=4.5, length=2.5, width=0.8, color=LINE_C, pad=1.5)
    ax.tick_params(axis='x', length=2.5, width=0.8, color=LINE_C, pad=2)
    for s in ('top', 'right'):
        ax.spines[s].set_visible(False)
    for s in ('left', 'bottom'):
        ax.spines[s].set_color(LINE_C)
        ax.spines[s].set_linewidth(0.9)
    ax.set_ylabel(ylab, fontsize=7, labelpad=7)

    fig.text(lx / W, 1 - ly / H, letter, fontsize=13, fontweight='bold', va='baseline')

fig.savefig("out.png", dpi=100)
